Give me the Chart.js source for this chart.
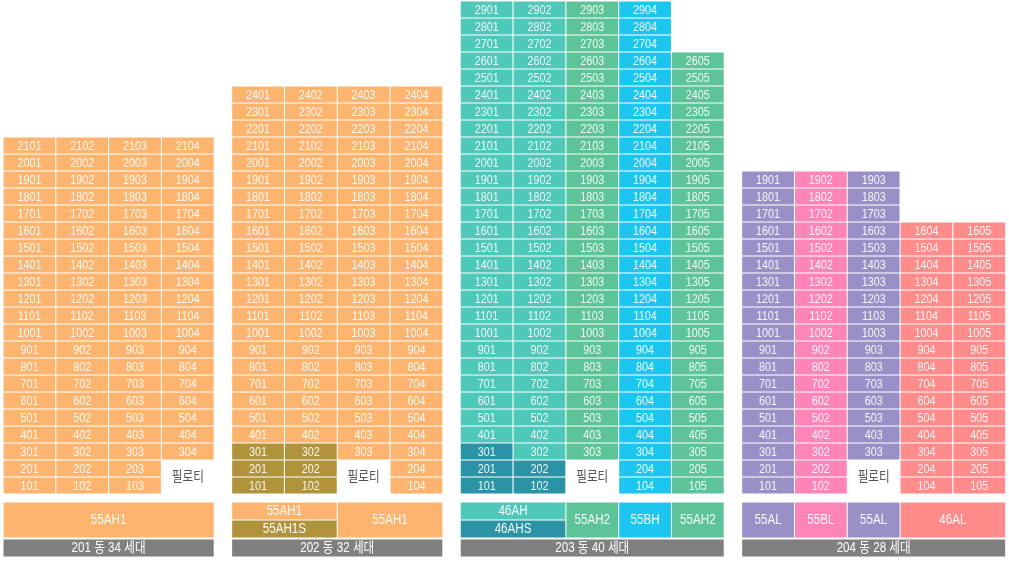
<!DOCTYPE html>
<html><head><meta charset="utf-8">
<script src="https://cdn.jsdelivr.net/npm/chart.js@4.4.1/dist/chart.umd.min.js"></script>
<style>html,body{margin:0;padding:0;background:#fff;}#wrap{width:1009px;height:561px;position:relative;}</style>
</head><body><div id="wrap"><canvas id="c"></canvas></div>
<script>
// ---- data ----
const buildingNames = ['201', '202', '203', '204'];
const householdCounts = [34, 32, 40, 28];
const topFloors = [[21, 21, 21, 21], [24, 24, 24, 24], [29, 29, 29, 29, 26], [19, 19, 19, 16, 16]];
const columnTypes = [
  ['55AH1', '55AH1', '55AH1', '55AH1'],
  ['55AH1', '55AH1', '55AH1', '55AH1'],
  ['46AH', '46AH', '55AH2', '55BH', '55AH2'],
  ['55AL', '55BL', '55AL', '46AL', '46AL']
];
const pilotiColumns = [3, 2, 2, 2];
const pilotiFloorCount = 2;
const pilotiLabel = '필로티';
const lowerTypeFloors = [[0, 0, 0, 0], [3, 3, 0, 0], [3, 2, 0, 0, 0], [0, 0, 0, 0, 0]];
const lowerTypes = ['', '55AH1S', '46AHS', ''];
const typeBlockTypes = [
  ['55AH1'],
  ['55AH1', '55AH1S', '55AH1'],
  ['46AH', '46AHS', '55AH2', '55BH', '55AH2'],
  ['55AL', '55BL', '55AL', '46AL']
];
const typeBlockCols = [
  [[0, 4]],
  [[0, 2], [0, 2], [2, 4]],
  [[0, 2], [0, 2], [2, 3], [3, 4], [4, 5]],
  [[0, 1], [1, 2], [2, 3], [3, 5]]
];
const typeBlockParts = [
  ['full'],
  ['top', 'bottom', 'full'],
  ['top', 'bottom', 'full', 'full', 'full'],
  ['full', 'full', 'full', 'full']
];

// ---- style / layout ----
const typeColors = {
  '55AH1': '#fdb46f', '55AH1S': '#b0933a',
  '46AH': '#4ec8b9', '46AHS': '#2a94a6', '55AH2': '#5cc498', '55BH': '#1dc6ef',
  '55AL': '#9b8fc7', '55BL': '#ff84b7', '46AL': '#ff8c8b'
};
const W = 1009, H = 561;
const COL_PX = 52.8, GAP_COLS = 0.33, LEFT_PX = 3;
const FLOOR_PX = 17, GROUND_PX = 494;
const TYPE_TOP = -8 / FLOOR_PX, TYPE_BOT = -44 / FLOOR_PX, TYPE_MID = -26 / FLOOR_PX;
const LAB_TOP = -45 / FLOOR_PX, LAB_BOT = -63 / FLOOR_PX;
const FONT = '"Liberation Sans", "Noto Sans CJK KR", Arial, sans-serif';
const TEXT_SX = 0.83;
const CELL_BORDER = 0.85;

const offsets = [];
let acc = 0;
buildingNames.forEach((b, i) => { offsets.push(acc + i * GAP_COLS); acc += topFloors[i].length; });

const datasets = [];
const cellData = {};
buildingNames.forEach((b, bi) => {
  topFloors[bi].forEach((top, c) => {
    for (let f = 1; f <= top; f++) {
      if (c === pilotiColumns[bi] && f <= pilotiFloorCount) continue;
      const t = f <= lowerTypeFloors[bi][c] ? lowerTypes[bi] : columnTypes[bi][c];
      (cellData[t] = cellData[t] || []).push({ x: offsets[bi] + c + 0.5, y: [f - 1, f], label: f + '0' + (c + 1) });
    }
  });
});
Object.keys(cellData).forEach(t => {
  datasets.push({ label: t, data: cellData[t], backgroundColor: typeColors[t], borderColor: '#ffffff',
    borderWidth: CELL_BORDER, borderSkipped: false, barThickness: COL_PX, grouped: false,
    textColor: 'rgba(255,255,255,0.92)', fontSize: 13 });
});
// piloti
datasets.push({ label: 'piloti', data: buildingNames.map((b, bi) => ({ x: offsets[bi] + pilotiColumns[bi] + 0.5, y: [0, pilotiFloorCount], label: pilotiLabel })),
  backgroundColor: 'rgba(0,0,0,0)', borderWidth: 0, barThickness: COL_PX, grouped: false, textColor: '#555555', fontSize: 14 });
// type row
buildingNames.forEach((b, bi) => {
  typeBlockTypes[bi].forEach((t, k) => {
    const [from, to] = typeBlockCols[bi][k];
    const part = typeBlockParts[bi][k];
    const y = part === 'top' ? [TYPE_MID, TYPE_TOP] : part === 'bottom' ? [TYPE_BOT, TYPE_MID] : [TYPE_BOT, TYPE_TOP];
    datasets.push({ label: t, data: [{ x: offsets[bi] + (from + to) / 2, y, label: t }],
      backgroundColor: typeColors[t], borderColor: '#ffffff', borderWidth: CELL_BORDER, borderSkipped: false,
      barThickness: (to - from) * COL_PX, grouped: false, textColor: 'rgba(255,255,255,0.95)', fontSize: 14 });
  });
});
// building label bars
buildingNames.forEach((b, bi) => {
  const n = topFloors[bi].length;
  datasets.push({ label: b, data: [{ x: offsets[bi] + n / 2, y: [LAB_BOT, LAB_TOP], label: b + ' 동 ' + householdCounts[bi] + ' 세대' }],
    backgroundColor: '#7f7f7f', borderColor: '#ffffff', borderWidth: CELL_BORDER, borderSkipped: false,
    barThickness: n * COL_PX, grouped: false, textColor: '#ffffff', fontSize: 14 });
});

const textPlugin = {
  id: 'cellText',
  afterDatasetsDraw(chart) {
    const ctx = chart.ctx;
    chart.data.datasets.forEach((ds, i) => {
      const meta = chart.getDatasetMeta(i);
      meta.data.forEach((el, j) => {
        const p = ds.data[j];
        if (!p.label) return;
        const { x, y, base } = el.getProps(['x', 'y', 'base'], true);
        ctx.save();
        ctx.textAlign = 'center';
        ctx.textBaseline = 'middle';
        ctx.fillStyle = ds.textColor;
        ctx.font = ds.fontSize + 'px ' + FONT;
        ctx.translate(x, (y + base) / 2 + 0.5);
        ctx.scale(TEXT_SX, 1);
        ctx.fillText(p.label, 0, 0);
        ctx.restore();
      });
    });
  }
};

const xMin = -LEFT_PX / COL_PX;
new Chart(document.getElementById('c'), {
  type: 'bar',
  data: { datasets },
  options: {
    responsive: true, maintainAspectRatio: false, animation: false, events: [],
    layout: { padding: 0 },
    plugins: { legend: { display: false }, tooltip: { enabled: false } },
    scales: {
      x: { type: 'linear', display: false, offset: false, bounds: 'data', min: xMin, max: xMin + W / COL_PX },
      y: { type: 'linear', display: false, bounds: 'data', min: (GROUND_PX - H) / FLOOR_PX, max: GROUND_PX / FLOOR_PX }
    }
  },
  plugins: [textPlugin]
});
</script></body></html>
